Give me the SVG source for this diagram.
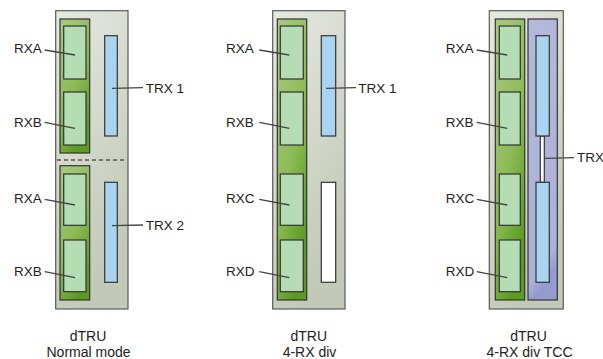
<svg xmlns="http://www.w3.org/2000/svg" width="603" height="359" viewBox="0 0 603 359">
<defs>
<linearGradient id="gOuter" x1="0" y1="0" x2="0.4" y2="1">
<stop offset="0" stop-color="#e6e9e2"/>
<stop offset="1" stop-color="#c2c9b6"/>
</linearGradient>
<linearGradient id="gGreen" x1="0" y1="0" x2="0.5" y2="1">
<stop offset="0" stop-color="#a9c986"/>
<stop offset="0.6" stop-color="#8cbb55"/>
<stop offset="1" stop-color="#5c9b22"/>
</linearGradient>
<linearGradient id="gPurple" x1="0" y1="0" x2="0.15" y2="1">
<stop offset="0" stop-color="#b4b8da"/>
<stop offset="0.93" stop-color="#adb1d8"/>
<stop offset="1" stop-color="#959bcf"/>
</linearGradient>
</defs>
<style>
.outer{fill:url(#gOuter);stroke:#5a5a5a;stroke-width:1.2}
.strip{fill:url(#gGreen);stroke:#333;stroke-width:1.2}
.pstrip{fill:url(#gPurple);stroke:#333;stroke-width:1.2}
.rx{fill:#b4ddb4;stroke:#333;stroke-width:1.2}
.trx{fill:#aad3f0;stroke:#333;stroke-width:1.2}
.off{fill:#ffffff;stroke:#333;stroke-width:1.2}
.lead{stroke:#444;stroke-width:1.3;fill:none}
text{font-family:"Liberation Sans",Arial,sans-serif;fill:#222}
.lbl{font-size:13.5px}
.cap{font-size:14px;text-anchor:middle}
</style>

<g id="panel-normal">
<rect class="outer" x="55.7" y="10.7" width="72.3" height="298.3"/>
<rect class="strip" x="60" y="19" width="29.7" height="134"/>
<rect class="strip" x="60" y="165.7" width="29.7" height="134.3"/>
<line x1="57" y1="160" x2="127" y2="160" stroke="#555" stroke-width="1.3" stroke-dasharray="4,3"/>
<rect class="rx" x="63.7" y="26" width="22.3" height="53"/>
<rect class="rx" x="63.7" y="92" width="22.3" height="53"/>
<rect class="rx" x="63.7" y="174" width="22.3" height="51.3"/>
<rect class="rx" x="63.7" y="240" width="22.3" height="51.7"/>
<rect class="trx" x="104.7" y="35.7" width="12.6" height="100.3"/>
<rect class="trx" x="104.7" y="182.3" width="12.6" height="100"/>
</g>

<g id="panel-4rx">
<rect class="outer" x="272.7" y="10.7" width="72.3" height="298.3"/>
<rect class="strip" x="277.3" y="19" width="29.4" height="281"/>
<rect class="rx" x="280.3" y="26" width="23" height="53"/>
<rect class="rx" x="280.3" y="92" width="23" height="53"/>
<rect class="rx" x="280.3" y="174" width="23" height="51.3"/>
<rect class="rx" x="280.3" y="240" width="23" height="51.7"/>
<rect class="trx" x="321.3" y="35.7" width="14.4" height="100.3"/>
<rect class="off" x="321.3" y="182.3" width="14.4" height="100"/>
</g>

<g id="panel-tcc">
<rect class="outer" x="489.3" y="10.7" width="74" height="298.3"/>
<rect class="strip" x="495.3" y="19" width="29.4" height="281"/>
<rect class="pstrip" x="528" y="19" width="29.3" height="281"/>
<rect class="rx" x="499.3" y="26" width="21" height="53"/>
<rect class="rx" x="499.3" y="92" width="21" height="53"/>
<rect class="rx" x="499.3" y="174" width="21" height="51.3"/>
<rect class="rx" x="499.3" y="240" width="21" height="51.7"/>
<rect class="off" x="540.3" y="136" width="4" height="46.3"/>
<rect class="trx" x="536" y="35.7" width="13.3" height="100.3"/>
<rect class="trx" x="536" y="182.3" width="13.3" height="100"/>
</g>

<g id="connectors">
<line class="lead" x1="44.7" y1="50" x2="75" y2="55"/>
<line class="lead" x1="44.7" y1="122.3" x2="75" y2="128.3"/>
<line class="lead" x1="44.7" y1="199.3" x2="75" y2="205"/>
<line class="lead" x1="44.7" y1="271.7" x2="75" y2="277.7"/>
<line class="lead" x1="112" y1="88.3" x2="143" y2="87.7"/>
<line class="lead" x1="112" y1="225.7" x2="143" y2="225"/>
<line class="lead" x1="259.3" y1="50" x2="289.3" y2="55"/>
<line class="lead" x1="259.3" y1="122.3" x2="289.3" y2="128.3"/>
<line class="lead" x1="259.3" y1="199.3" x2="289.3" y2="205"/>
<line class="lead" x1="259.3" y1="271.7" x2="289.3" y2="277.7"/>
<line class="lead" x1="326" y1="88.3" x2="356" y2="87.7"/>
<line class="lead" x1="476.7" y1="50" x2="507.3" y2="55"/>
<line class="lead" x1="476.7" y1="122.3" x2="507.3" y2="128.3"/>
<line class="lead" x1="476.7" y1="199.3" x2="507.3" y2="205"/>
<line class="lead" x1="476.7" y1="271.7" x2="507.3" y2="277.7"/>
<line class="lead" x1="544.7" y1="158.3" x2="574" y2="157.7"/>
</g>

<g id="labels">
<text class="lbl" x="14" y="53.3">RXA</text>
<text class="lbl" x="14" y="126.7">RXB</text>
<text class="lbl" x="14" y="202.7">RXA</text>
<text class="lbl" x="14" y="276">RXB</text>
<text class="lbl" x="145.7" y="92.7">TRX 1</text>
<text class="lbl" x="145.7" y="229.7">TRX 2</text>
<text class="lbl" x="226" y="53.3">RXA</text>
<text class="lbl" x="226" y="126.7">RXB</text>
<text class="lbl" x="226" y="202.7">RXC</text>
<text class="lbl" x="226" y="276">RXD</text>
<text class="lbl" x="358.3" y="92.7">TRX 1</text>
<text class="lbl" x="445.7" y="53.3">RXA</text>
<text class="lbl" x="445.7" y="126.7">RXB</text>
<text class="lbl" x="445.7" y="202.7">RXC</text>
<text class="lbl" x="445.7" y="276">RXD</text>
<text class="lbl" x="577" y="162">TRX</text>
<text class="cap" x="88" y="341.3">dTRU</text>
<text class="cap" x="88.5" y="356.7">Normal mode</text>
<text class="cap" x="308.8" y="341.3">dTRU</text>
<text class="cap" x="309.5" y="356.7">4-RX div</text>
<text class="cap" x="528.5" y="341.3">dTRU</text>
<text class="cap" x="529.5" y="356.7">4-RX div TCC</text>
</g>
</svg>
